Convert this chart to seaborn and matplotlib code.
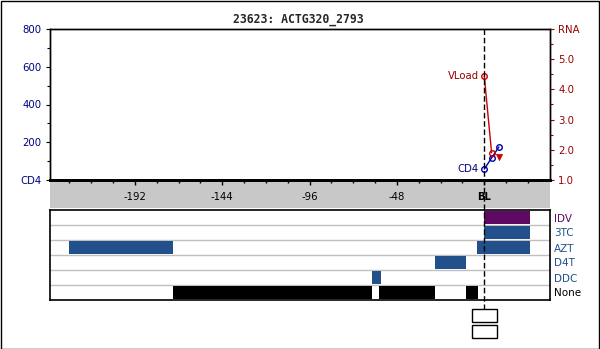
import matplotlib
matplotlib.use("Agg")
import matplotlib.pyplot as plt
import seaborn as sns
import numpy as np
from matplotlib.patches import Rectangle
from matplotlib.lines import Line2D
from matplotlib.transforms import blended_transform_factory

sns.set_style("white")
plt.rcParams['font.family'] = ['DejaVu Sans']
plt.rcParams['axes.unicode_minus'] = False

# ---- data ----
title = "23623: ACTG320_2793"
x_ticks = [-192, -144, -96, -48, 0]
x_tick_labels = ["-192", "-144", "-96", "-48", "BL"]
cd4_ticks = [0, 200, 400, 600, 800]
cd4_tick_labels = ["CD4", "200", "400", "600", "800"]
rna_ticks = [1, 2, 3, 4, 5, 6]
rna_tick_labels = ["1.0", "2.0", "3.0", "4.0", "5.0", "RNA"]

cd4_days = [0, 4, 8]
cd4_values = [58, 117, 175]
vl_days = [0, 4]
vl_values = [4.43, 1.9]
vl_below_days = [8]
vl_below_values = [1.77]

drugs = ["IDV", "3TC", "AZT", "D4T", "DDC", "None"]
drug_colors = ["#5e0a62", "#22508a", "#22508a", "#22508a", "#22508a", "#000000"]
label_colors = ["#5e0a62", "#22508a", "#22508a", "#22508a", "#22508a", "#000000"]
reg_drug = ["IDV", "3TC", "AZT", "AZT", "D4T", "DDC", "None", "None", "None"]
reg_start = [0, 0, -228, -4, -27, -62, -171, -58, -10]
reg_end = [25, 25, -171, 25, -10, -57, -62, -27, -3.5]

RED = "#cc0000"
DRED = "#990000"
NAVY = "#000080"
BLUE = "#0000aa"

W, H = 600, 349
fig = plt.figure(figsize=(W / 100, H / 100), dpi=100)


def fr(x0, y0, x1, y1):
    return [x0 / W, 1 - y1 / H, (x1 - x0) / W, (y1 - y0) / H]


XMIN, XMAX = -238.7, 36.1

# gray band under the axis
band = fig.add_axes(fr(50, 180, 550, 208))
band.set_facecolor("#c8c8c8")
band.set_xticks([]); band.set_yticks([])
for s in band.spines.values():
    s.set_visible(False)
band.set_zorder(0)

ax = fig.add_axes(fr(50, 29, 550, 180))
ax.set_zorder(2)
ax.patch.set_alpha(0)
ax2 = ax.twinx()

ax.set_xlim(XMIN, XMAX)
ax.set_ylim(0, 800)
ax2.set_ylim(1, 6)

# CD4
sns.lineplot(x=cd4_days, y=cd4_values, ax=ax, color=BLUE, linewidth=1,
             marker="o", markersize=4, markerfacecolor="none",
             markeredgecolor=BLUE, markeredgewidth=1, estimator=None, sort=False)
# Viral load
sns.lineplot(x=vl_days, y=vl_values, ax=ax2, color=RED, linewidth=1,
             marker="o", markersize=4, markerfacecolor="none",
             markeredgecolor=RED, markeredgewidth=1, estimator=None, sort=False)
sns.scatterplot(x=vl_below_days, y=vl_below_values, ax=ax2, marker="v",
                color=RED, s=20, edgecolor=RED, linewidth=0.5)

ax2.annotate("VLoad", (vl_days[0], vl_values[0]), xytext=(-4, 0),
             textcoords="offset points", ha="right", va="center",
             color=DRED, fontsize=7.3)
ax.annotate("CD4", (cd4_days[0], cd4_values[0]), xytext=(-4, 0),
            textcoords="offset points", ha="right", va="center",
            color=NAVY, fontsize=7.3)

ax.set_xticks(x_ticks)
ax.set_xticklabels(x_tick_labels, fontsize=7.3)
ax.set_xticks(np.arange(-228, 36, 12), minor=True)
for lab in ax.get_xticklabels():
    if lab.get_text() == "BL":
        lab.set_fontweight("bold")
ax.set_yticks(cd4_ticks)
ax.set_yticklabels(cd4_tick_labels, fontsize=7.3, color=NAVY)
ax.set_yticks(np.arange(100, 800, 200), minor=True)
ax2.set_yticks(rna_ticks)
ax2.set_yticklabels(rna_tick_labels, fontsize=7.3, color=DRED)
ax2.set_yticks(np.arange(1.5, 6, 1), minor=True)

ax.tick_params(axis="x", which="both", bottom=True, top=False)
ax.tick_params(axis="y", which="both", left=True, right=False)
ax2.tick_params(axis="y", which="both", right=True, left=False)
ax.tick_params(axis="x", which="major", direction="out", length=3.5, width=1, pad=5, colors="black")
ax.tick_params(axis="x", which="minor", direction="out", length=2, width=1, color="black")
ax.tick_params(axis="y", which="major", direction="out", length=3, width=0.8, pad=3, color="black")
ax.tick_params(axis="y", which="minor", direction="out", length=2, width=0.8, color="black")
ax2.tick_params(axis="y", which="major", direction="out", length=3, width=0.8, pad=3, color=DRED)
ax2.tick_params(axis="y", which="minor", direction="out", length=2, width=0.8, color=DRED)
ax.set_xlabel(""); ax.set_ylabel(""); ax2.set_ylabel("")
for a in (ax, ax2):
    for s in a.spines.values():
        s.set_color("black")
        s.set_linewidth(1)
ax.spines["bottom"].set_linewidth(2)
ax2.spines["bottom"].set_linewidth(2)

# regimen panel
axb = fig.add_axes(fr(50, 210, 550, 300))
axb.set_xlim(XMIN, XMAX)
axb.set_ylim(len(drugs) - 0.5, -0.5)
for i in range(len(drugs) - 1):
    axb.axhline(i + 0.5, color="#c0c0c0", linewidth=1, zorder=1)
ypos = [drugs.index(d) for d in reg_drug]
cols = [drug_colors[drugs.index(d)] for d in reg_drug]
axb.barh(ypos, np.array(reg_end) - np.array(reg_start), left=reg_start,
         height=0.92, color=cols, zorder=2, linewidth=0)
axb.set_xticks([])
axb.set_yticks(range(len(drugs)))
axb.yaxis.tick_right()
axb.set_yticklabels(drugs, fontsize=7.5)
for lab, c in zip(axb.get_yticklabels(), label_colors):
    lab.set_color(c)
axb.tick_params(axis="y", length=0, pad=3)
for s in axb.spines.values():
    s.set_color("black"); s.set_linewidth(1.2)

# dashed baseline marker through both panels
tr = blended_transform_factory(ax.transData, fig.transFigure)
fig.add_artist(Line2D([0, 0], [1 - 29 / H, 1 - 309 / H], transform=tr,
                      color="black", linewidth=1, linestyle=(0, (4, 2)), zorder=5))
for (y0, y1) in [(309, 322), (325, 338)]:
    fig.add_artist(Rectangle((-6.6, 1 - y1 / H), 13.8, (y1 - y0) / H, transform=tr,
                             facecolor="white", edgecolor="black", linewidth=1, zorder=6))

fig.text(298.5 / W, 1 - 20 / H, title, ha="center", va="center",
         fontsize=8.3, fontweight="bold", family="DejaVu Sans Mono")

fig.add_artist(Rectangle((0.5 / W, 0.5 / H), 598 / W, 347.5 / H,
                         transform=fig.transFigure, facecolor="none",
                         edgecolor="black", linewidth=1))

fig.savefig("out.png", dpi=100)
